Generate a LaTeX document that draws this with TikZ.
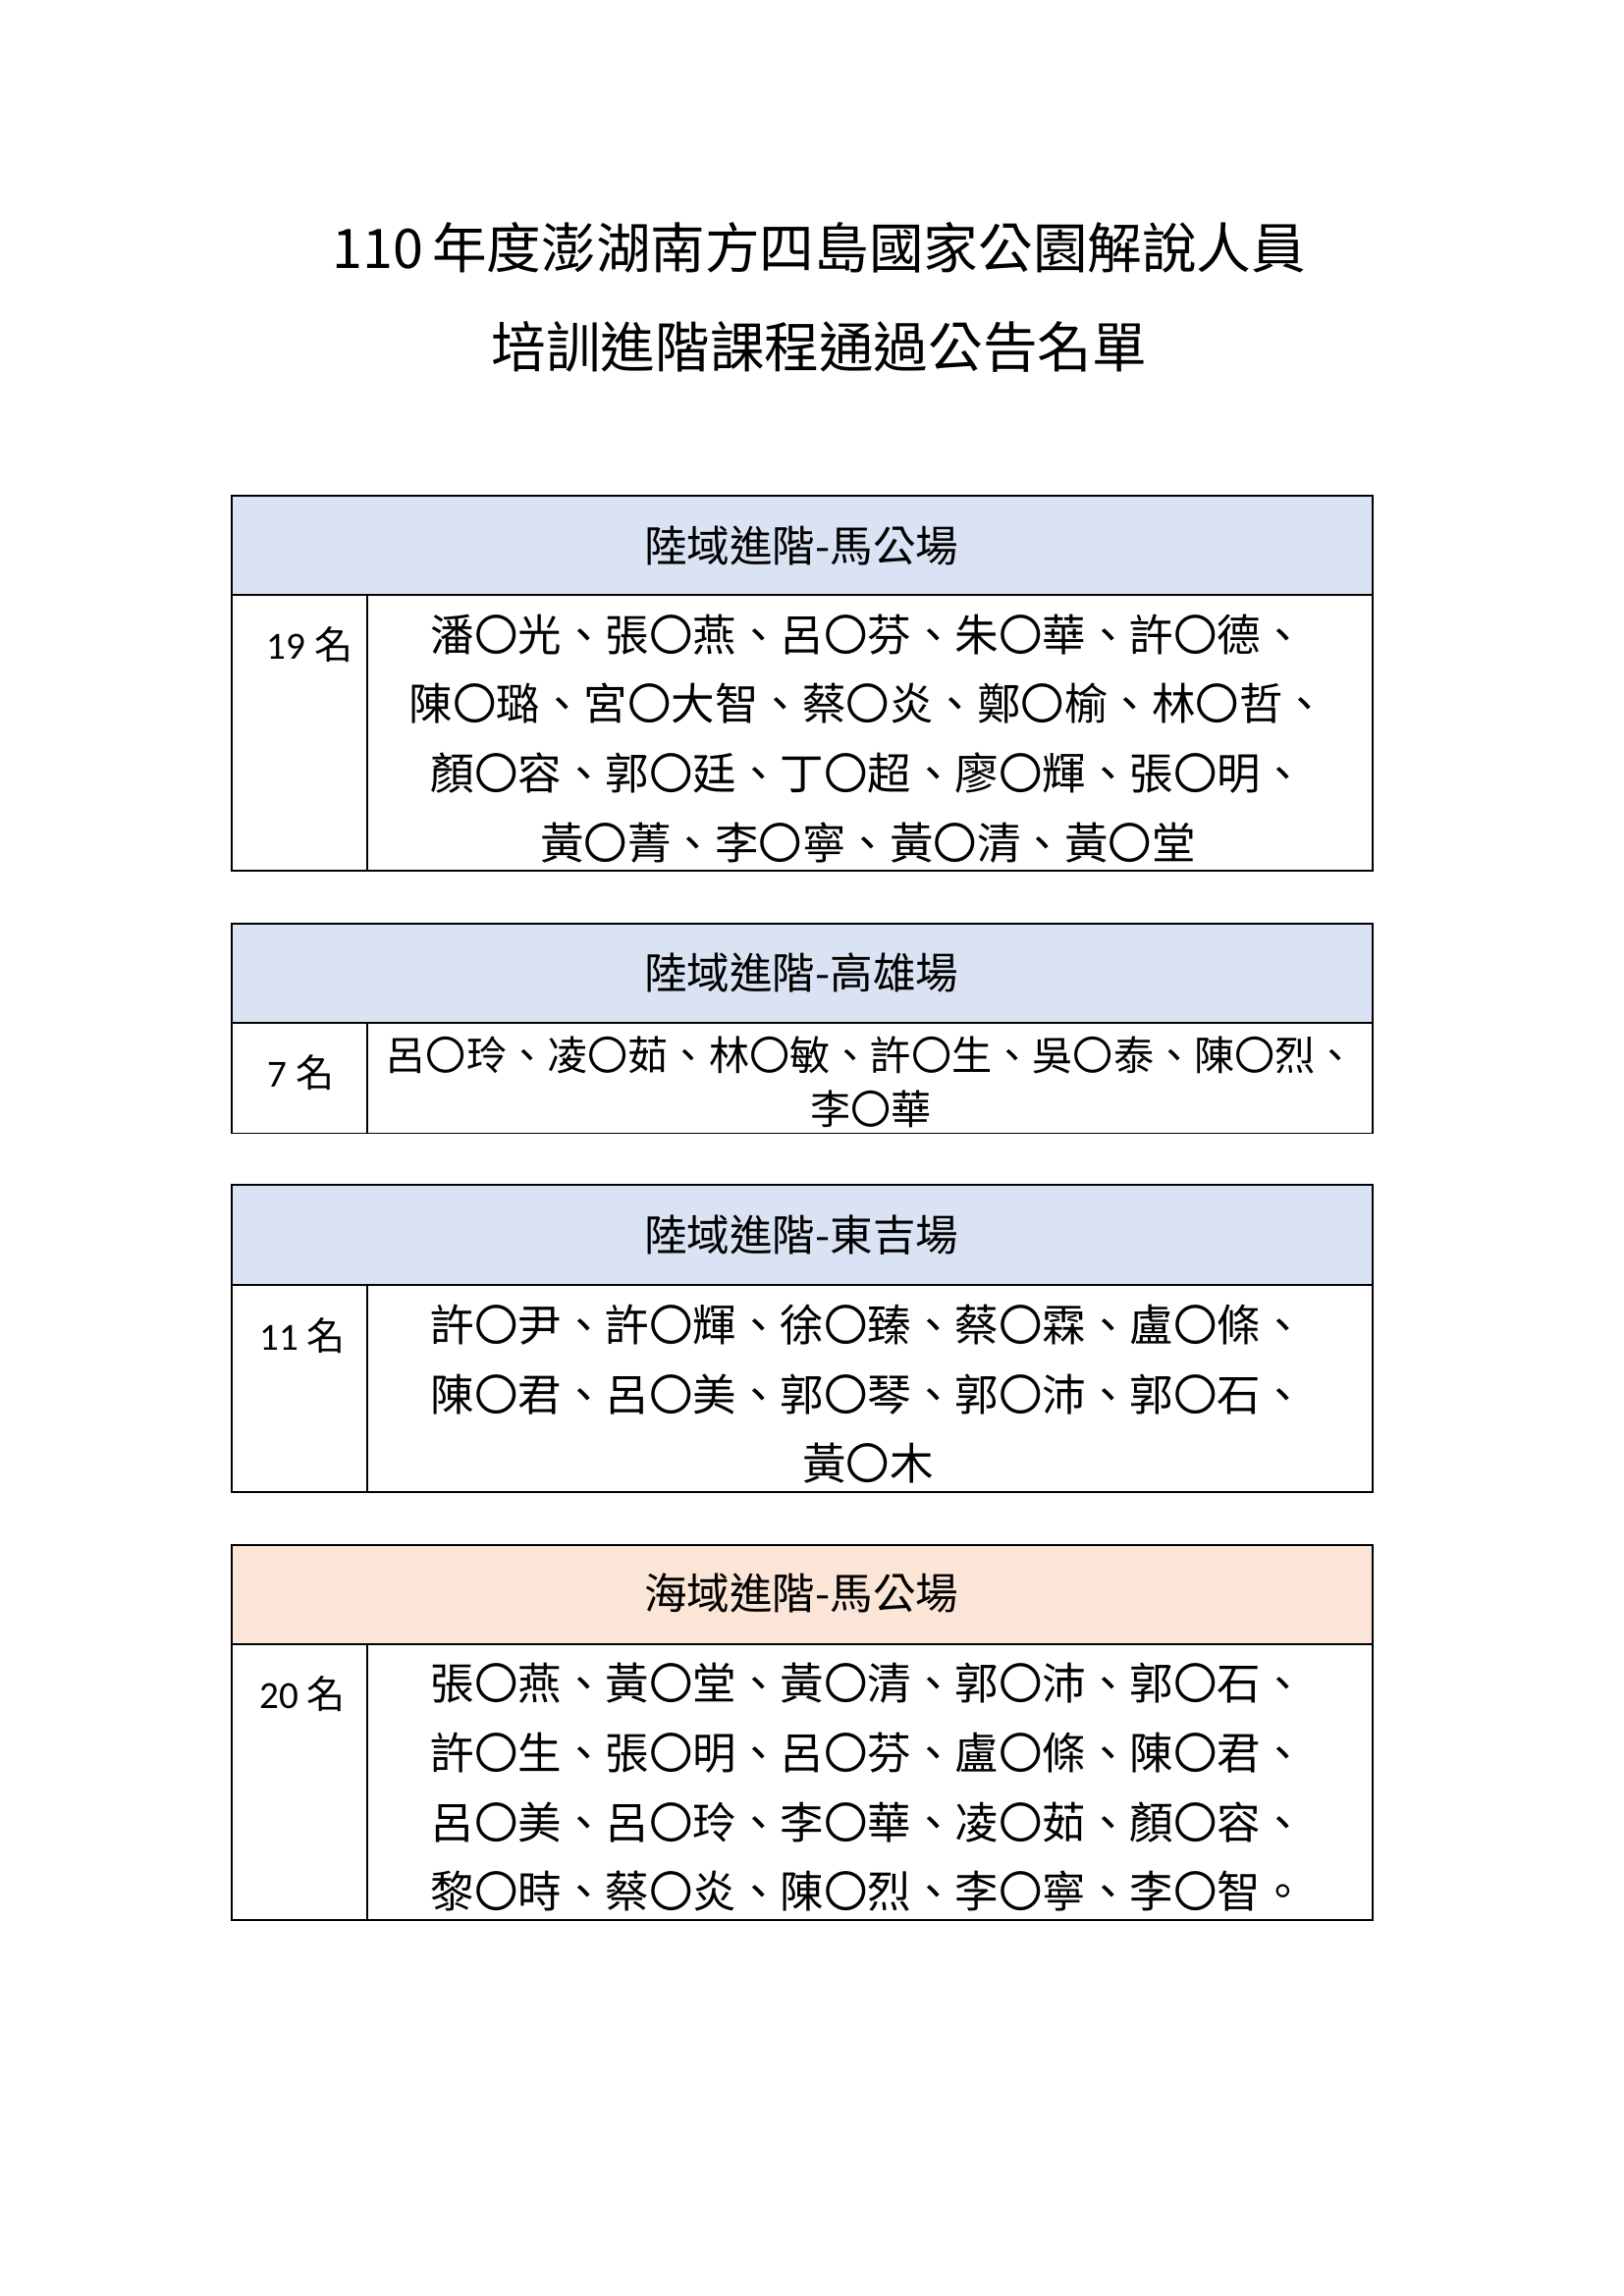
\documentclass[tikz,border=0pt]{standalone}
\usepackage{fontspec}
\setmainfont{Carlito}
\newfontfamily\cjk{Noto Sans CJK TC}
\definecolor{hblue}{HTML}{DAE3F3}
\definecolor{horange}{HTML}{FBE5D6}
\begin{document}
\begin{tikzpicture}[x=1pt,y=-1pt,
 box/.style={draw=black,line width=1.3pt},
 hdr/.style={font=\cjk\fontsize{29}{34}\selectfont},
 names/.style={font=\cjk\fontsize{29.6}{47}\selectfont,align=center,anchor=north,inner sep=0pt},
 cnt/.style={font=\fontsize{26}{30}\selectfont,anchor=center}]
\useasboundingbox (0,0) rectangle (1100,1556);
\node (t1) at (555,168) {\cjk\fontsize{37}{42}\selectfont 110\,年度澎湖南方四島國家公園解說人員};
\node (t2) at (555,235) {\cjk\fontsize{37}{42}\selectfont 培訓進階課程通過公告名單};
% table 1
\fill[hblue] (157,336) rectangle (930,403);
\draw[box] (157,336) rectangle (930,590);
\draw[box] (157,403) -- (930,403) (249,403) -- (249,590);
\node[hdr] (h1) at (543,370) {陸域進階-馬公場};
\node[cnt] (c1) at (210,437) {19 {\cjk 名}};
\node[names] (n1) at (588,416) {潘〇光、張〇燕、呂〇芬、朱〇華、許〇德、\\陳〇璐、宮〇大智、蔡〇炎、鄭〇榆、林〇哲、\\顏〇容、郭〇廷、丁〇超、廖〇輝、張〇明、\\黃〇菁、李〇寧、黃〇清、黃〇堂};
% table 2
\fill[hblue] (157,626) rectangle (930,693);
\draw[box] (157,626) rectangle (930,768);
\draw[box] (157,693) -- (930,693) (249,693) -- (249,768);
\node[hdr] (h2) at (543,659) {陸域進階-高雄場};
\node[cnt] (c2) at (204,727) {7 {\cjk 名}};
\node[names,font=\cjk\fontsize{27.4}{37}\selectfont] (n2) at (590,702) {呂〇玲、凌〇茹、林〇敏、許〇生、吳〇泰、陳〇烈、\\李〇華};
% table 3
\fill[hblue] (157,803) rectangle (930,871);
\draw[box] (157,803) rectangle (930,1011);
\draw[box] (157,871) -- (930,871) (249,871) -- (249,1011);
\node[hdr] (h3) at (543,837) {陸域進階-東吉場};
\node[cnt] (c3) at (205,905) {11 {\cjk 名}};
\node[names] (n3) at (588,884) {許〇尹、許〇輝、徐〇臻、蔡〇霖、盧〇條、\\陳〇君、呂〇美、郭〇琴、郭〇沛、郭〇石、\\黃〇木};
% table 4
\fill[horange] (157,1047) rectangle (930,1114);
\draw[box] (157,1047) rectangle (930,1301);
\draw[box] (157,1114) -- (930,1114) (249,1114) -- (249,1301);
\node[hdr] (h4) at (543,1080) {海域進階-馬公場};
\node[cnt] (c4) at (205,1148) {20 {\cjk 名}};
\node[names] (n4) at (588,1127) {張〇燕、黃〇堂、黃〇清、郭〇沛、郭〇石、\\許〇生、張〇明、呂〇芬、盧〇條、陳〇君、\\呂〇美、呂〇玲、李〇華、凌〇茹、顏〇容、\\黎〇時、蔡〇炎、陳〇烈、李〇寧、李〇智。};
\end{tikzpicture}
\end{document}
